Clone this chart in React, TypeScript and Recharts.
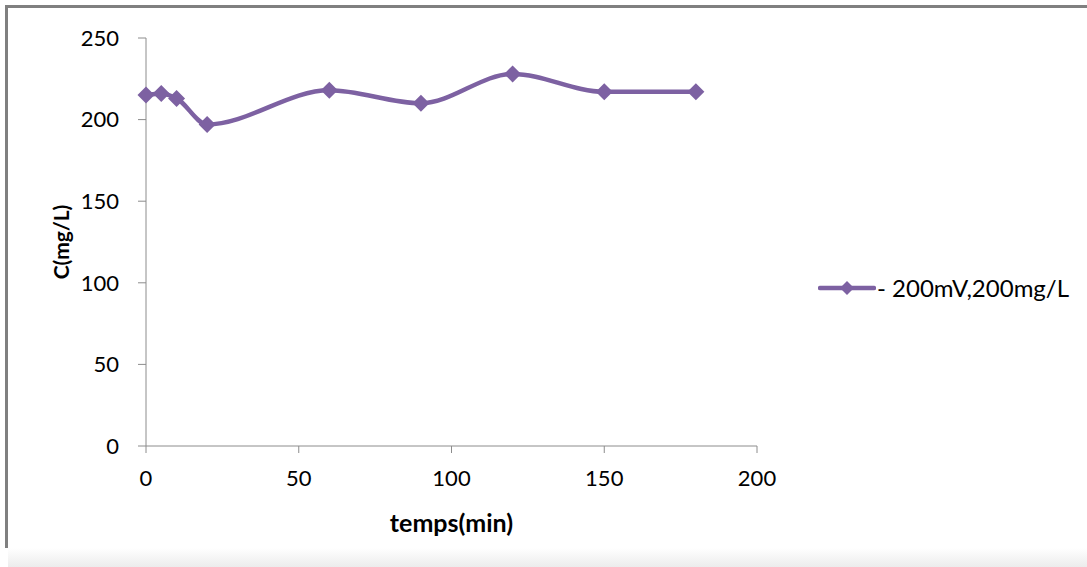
import { LineChart, Line, XAxis, YAxis } from 'recharts';

const times = [0, 5, 10, 20, 60, 90, 120, 150, 180];
const concentrations = [215, 216, 213, 197, 218, 210, 228, 217, 217];
const xTicks = [0, 50, 100, 150, 200];
const yTicks = [0, 50, 100, 150, 200, 250];
const seriesName = '- 200mV,200mg/L';

const data = times.map((t, i) => ({ t, c: concentrations[i] }));

const PURPLE = '#7d61a2';
const AXIS = '#8c8c8c';
const FONT = 'Lato, "Open Sans", sans-serif';

const Diamond = (props: any) => {
  const { cx, cy } = props;
  if (cx == null || cy == null) return null;
  const r = 8.5;
  return (
    <polygon
      points={`${cx},${cy - r} ${cx + r},${cy} ${cx},${cy + r} ${cx - r},${cy}`}
      fill={PURPLE}
    />
  );
};

const YLabel = (props: any) => {
  const { viewBox } = props;
  const y = viewBox.y + viewBox.height / 2;
  return (
    <text
      x={52}
      y={y}
      transform={`rotate(-90 52 ${y})`}
      textAnchor="middle"
      dominantBaseline="central"
      fontFamily={FONT}
      fontWeight="bold"
      fontSize={21}
      fill="#000"
    >
      C(mg/L)
    </text>
  );
};

const XLabel = (props: any) => {
  const { viewBox } = props;
  const x = viewBox.x + viewBox.width / 2;
  return (
    <text
      x={x}
      y={viewBox.y + 76}
      textAnchor="middle"
      dominantBaseline="central"
      fontFamily={FONT}
      fontWeight="bold"
      fontSize={25}
      fill="#000"
    >
      temps(min)
    </text>
  );
};

export default function App() {
  return (
    <div style={{ position: 'absolute', left: 0, top: 0, width: 1087, height: 567, background: '#fff', overflow: 'hidden' }}>
      <div style={{ position: 'absolute', left: 5, top: 5, width: 1082, height: 3, background: '#808080' }} />
      <div style={{ position: 'absolute', left: 5, top: 5, width: 3, height: 543, background: '#808080' }} />
      <div style={{ position: 'absolute', left: 8, top: 8 }}>
        <LineChart
          width={1079}
          height={540}
          data={data}
          margin={{ top: 30, right: 330, bottom: 0, left: 0 }}
          style={{ fontFamily: FONT }}
        >
          <XAxis
            dataKey="t"
            type="number"
            domain={[0, 200]}
            ticks={xTicks}
            height={102}
            stroke={AXIS}
            tickSize={7}
            tickMargin={17}
            tick={{ fill: '#000', fontSize: 22, fontFamily: FONT }}
            label={<XLabel />}
          />
          <YAxis
            dataKey="c"
            type="number"
            domain={[0, 250]}
            ticks={yTicks}
            width={138}
            stroke={AXIS}
            tickSize={8}
            tickMargin={19}
            tick={{ fill: '#000', fontSize: 22, fontFamily: FONT }}
            label={<YLabel />}
          />
          <Line
            type="monotone"
            dataKey="c"
            name={seriesName}
            stroke={PURPLE}
            strokeWidth={4.5}
            dot={<Diamond />}
            activeDot={false}
            isAnimationActive={false}
          />
        </LineChart>
        <div
          style={{
            position: 'absolute',
            left: 810,
            top: 265,
            display: 'flex',
            alignItems: 'center',
            fontFamily: FONT,
            fontSize: 24,
            color: '#000',
          }}
        >
          <svg width={58} height={20}>
            <line x1={2} y1={10} x2={56} y2={10} stroke={PURPLE} strokeWidth={4.5} strokeLinecap="round" />
            <polygon points="29,3 36,10 29,17 22,10" fill={PURPLE} />
          </svg>
          <span style={{ marginLeft: 1 }}>{seriesName}</span>
        </div>
      </div>
      <div
        style={{
          position: 'absolute',
          left: 8,
          top: 548,
          width: 1079,
          height: 19,
          background: 'linear-gradient(#ffffff, #ececec)',
        }}
      />
    </div>
  );
}
